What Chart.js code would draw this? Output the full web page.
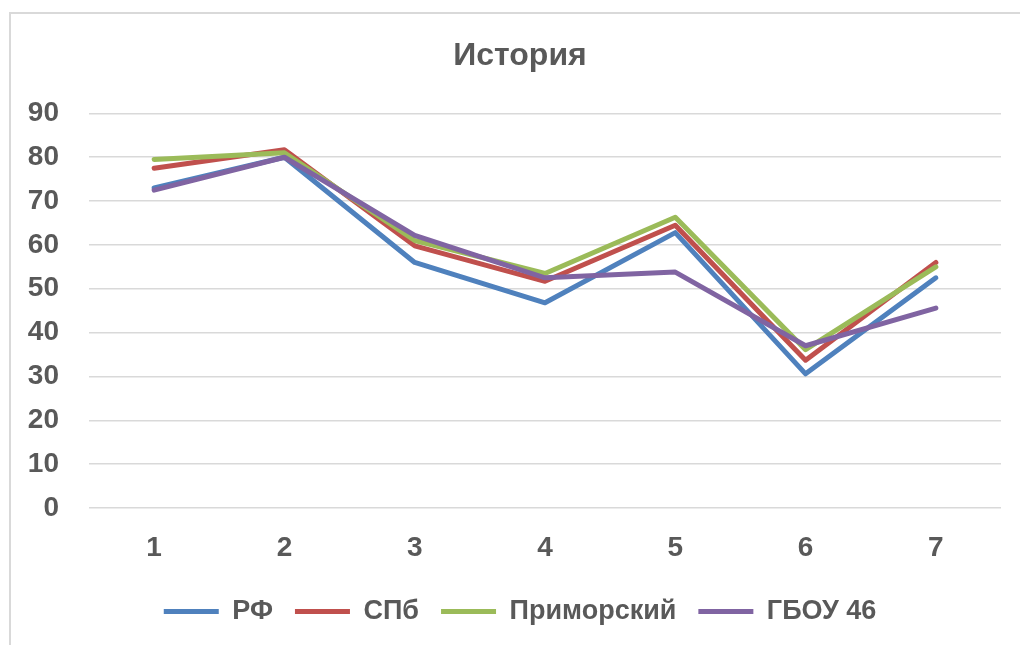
<!DOCTYPE html>
<html>
<head>
<meta charset="utf-8">
<script src="https://cdn.jsdelivr.net/npm/chart.js@4/dist/chart.umd.min.js"></script>
<style>
    html, body { margin: 0; padding: 0; background: #fff; }
    body { width: 1020px; height: 645px; position: relative; overflow: hidden; }
    #marco {
        position: absolute; left: 9px; top: 12px; width: 1040px; height: 660px;
        border-left: 2px solid #d9d9d9; border-top: 2px solid #d9d9d9;
    }
    #caja { position: absolute; left: 0; top: 0; width: 1040px; height: 645px; }
</style>
</head>
<body>
<div id="marco"></div>
<div id="caja"><canvas id="grafico"></canvas></div>
<script>
const categorias = ['1', '2', '3', '4', '5', '6', '7'];
const valoresRF = [73, 80, 56, 46.8, 62.8, 30.6, 52.5];
const valoresSPb = [77.5, 81.7, 59.8, 51.7, 64.5, 33.7, 56];
const valoresPrimorsky = [79.5, 81, 61, 53.5, 66.3, 36.1, 55];
const valoresGBOU = [72.5, 80, 62.2, 52.5, 53.8, 37, 45.6];

const fuente = '"Liberation Sans", Arial, sans-serif';
const gris = '#595959';

const serie = (label, data, color, orden) => ({
    label: label,
    data: data,
    borderColor: color,
    backgroundColor: color,
    borderWidth: 5,
    borderCapStyle: 'round',
    borderJoinStyle: 'round',
    pointRadius: 0,
    tension: 0,
    order: orden
});

const ctx = document.getElementById('grafico').getContext('2d');
new Chart(ctx, {
    type: 'line',
    data: {
        labels: categorias,
        datasets: [
            serie('РФ', valoresRF, '#4f81bd', 4),
            serie('СПб', valoresSPb, '#c0504d', 3),
            serie('Приморский', valoresPrimorsky, '#9bbb59', 2),
            serie('ГБОУ 46', valoresGBOU, '#8064a2', 1)
        ]
    },
    options: {
        responsive: true,
        maintainAspectRatio: false,
        animation: false,
        layout: { padding: { left: 0, right: 0, top: 0, bottom: 10 } },
        plugins: {
            tooltip: { enabled: false },
            title: {
                display: true,
                text: 'История',
                color: gris,
                font: { family: fuente, size: 32, weight: 'bold', lineHeight: 1.2 },
                padding: { top: 37, bottom: 38 }
            },
            legend: {
                position: 'bottom',
                labels: {
                    usePointStyle: true,
                    pointStyle: 'line',
                    pointStyleWidth: 55,
                    boxHeight: 27,
                    color: gris,
                    padding: 22,
                    font: { family: fuente, size: 27, weight: 'bold' },
                    sort: (a, b) => a.datasetIndex - b.datasetIndex
                }
            }
        },
        scales: {
            x: {
                offset: true,
                grid: { display: false, drawTicks: false },
                border: { display: false },
                ticks: {
                    color: gris,
                    padding: 23,
                    font: { family: fuente, size: 28, weight: 'bold' }
                },
                afterFit: (escala) => { escala.height = 68; }
            },
            y: {
                min: 0,
                max: 90,
                ticks: {
                    stepSize: 10,
                    color: gris,
                    padding: 30,
                    font: { family: fuente, size: 28, weight: 'bold' }
                },
                grid: { color: '#d9d9d9', lineWidth: 1.5, drawTicks: false },
                border: { display: false },
                afterFit: (escala) => { escala.width = 89; }
            },
            // eje vacío a la derecha, solo para reservar el margen
            derecha: {
                type: 'linear',
                position: 'right',
                grid: { display: false, drawTicks: false },
                border: { display: false },
                ticks: { display: false },
                afterFit: (escala) => { escala.width = 39; }
            }
        }
    }
});
</script>
</body>
</html>
